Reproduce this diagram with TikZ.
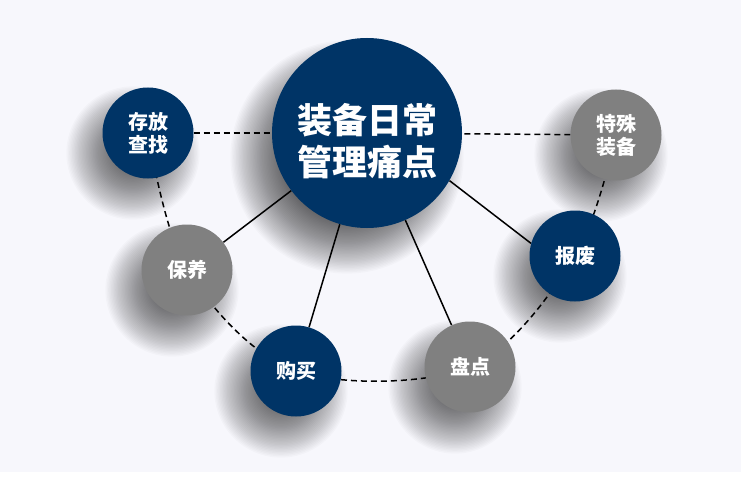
\documentclass[tikz,border=0pt]{standalone}
\usepackage{fontspec}
\newfontfamily\cjk{Noto Sans CJK SC}
\definecolor{navy}{RGB}{0,52,102}
\definecolor{midgray}{RGB}{128,128,128}
\definecolor{paper}{RGB}{247,247,252}
\pgfdeclarelayer{bg}
\pgfdeclarelayer{wires}
\pgfsetlayers{bg,wires,main}
%% 柔和阴影：节点名, 水平偏移, 竖直偏移, 外半径
\newcommand\discshadow[4]{%
  \foreach \k [evaluate=\k as \rad using #4-1.4*\k] in {1,...,40}
    \fill[haze] ([xshift=#2, yshift=#3]#1.center) circle[radius=\rad pt];}
\begin{document}
\begin{tikzpicture}[x=1pt, y=-1pt,
  disc/.style={circle, minimum size=91pt, inner sep=0pt, text=white, align=center,
    font=\cjk\bfseries\fontsize{20}{23}\selectfont},
  navydisc/.style={disc, fill=navy},
  graydisc/.style={disc, fill=midgray},
  haze/.style={black, opacity=0.021},
  link/.style={black, line width=1.5pt},
  dashlink/.style={black, line width=1.5pt, dash pattern=on 6pt off 4pt}]

  \useasboundingbox (0, 0) rectangle (741, 484);

  %% 中心
  \node[navydisc, minimum size=190pt] (pain) at (367, 133) {};
  \node[text=white, align=center, font=\cjk\bfseries\fontsize{35}{42}\selectfont]
    (paintext) at ([yshift=-8pt]pain.center) {装备日常\\管理痛点};

  %% 周围的圆
  \node[navydisc] (store)   at (148, 133) {存放\\查找};
  \node[graydisc] (care)    at (187, 270) {保养};
  \node[navydisc] (buy)     at (296, 371) {购买};
  \node[graydisc] (check)   at (470, 367) {盘点};
  \node[navydisc] (scrap)   at (575, 256) {报废};
  \node[graydisc] (special) at (616, 135) {特殊\\装备};

  %% 背景和阴影
  \begin{pgfonlayer}{bg}
    \fill[paper] (0, 0) rectangle (741, 472);
    \fill[white] (0, 472) rectangle (741, 484);
    \discshadow{pain}{-20pt}{-24pt}{118}
    \discshadow{store}{-15pt}{-20pt}{68}
    \discshadow{care}{-15pt}{-20pt}{68}
    \discshadow{buy}{-15pt}{-20pt}{68}
    \discshadow{check}{-15pt}{-20pt}{68}
    \discshadow{scrap}{-15pt}{-20pt}{68}
    \discshadow{special}{-15pt}{-20pt}{68}
  \end{pgfonlayer}

  %% 连线
  \begin{pgfonlayer}{wires}
    \draw[dashlink] (store) -- (pain);
    \draw[dashlink] (special) -- (pain);
    \draw[dashlink] plot[smooth, tension=0.55] coordinates
      {(store.center) (care.center) (buy.center) (check.center) (scrap.center) (special.center)};
    \draw[link] (pain) -- (care);
    \draw[link] (pain) -- (buy);
    \draw[link] (pain) -- (check);
    \draw[link] (pain.-30) -- (scrap.164);
  \end{pgfonlayer}
\end{tikzpicture}
\end{document}
